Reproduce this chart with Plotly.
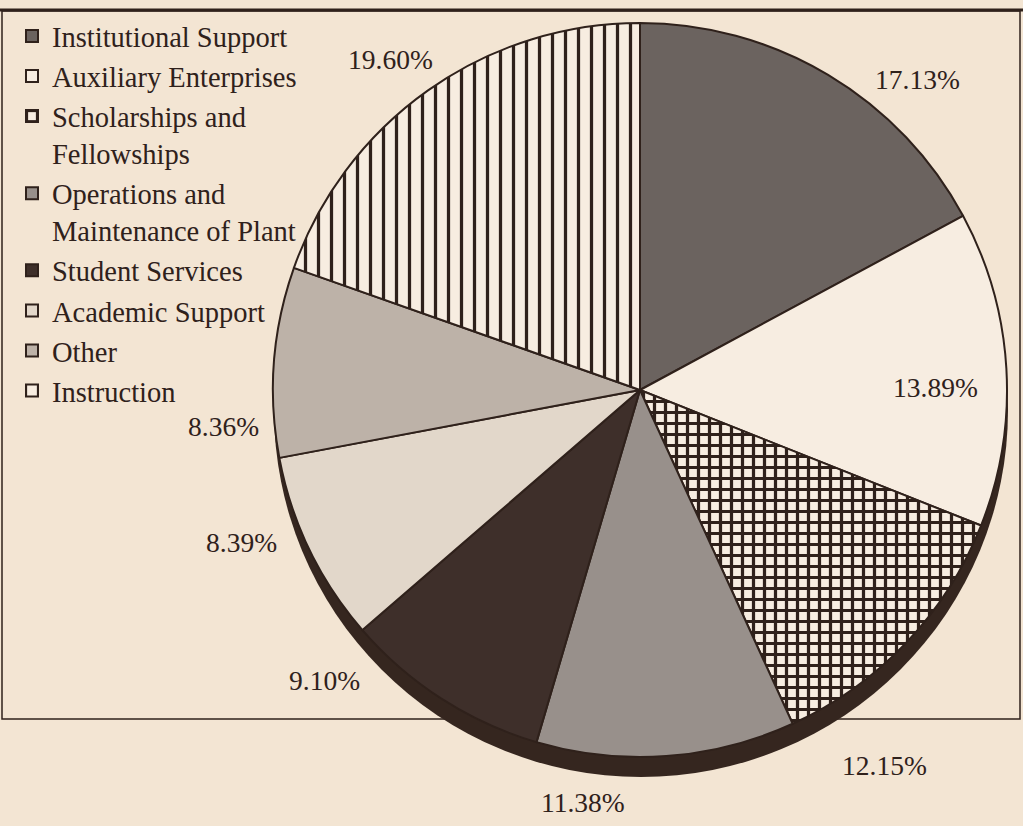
import plotly.graph_objects as go

categories = ["Institutional Support", "Auxiliary Enterprises", "Scholarships and<br>Fellowships",
              "Operations and<br>Maintenance of Plant", "Student Services", "Academic Support",
              "Other", "Instruction"]
shares = [17.13, 13.89, 12.15, 11.38, 9.10, 8.39, 8.36, 19.60]

slice_colors = ["#6b635f", "#f7ede1", "#f7ede1", "#98908b", "#3e2f2a", "#e2d7ca", "#bdb2a8", "#f7ede1"]
slice_shapes = ["", "", "+", "", "", "", "", "|"]

# where each percentage label sits, in pixels of the 1023x826 page
label_px = [(917, 79), (935, 387), (884, 765), (583, 802), (324, 680), (241, 542), (223, 426), (390, 60)]

W, H = 1023, 826
BG = "#f3e5d3"
INK = "#2f211b"
FONT = "Liberation Serif"

cx, cy, r = 640, 390, 367
drop = 20


def dom(x0, x1, y0, y1):
    return dict(x=[x0 / W, x1 / W], y=[1 - y1 / H, 1 - y0 / H])


fig = go.Figure()

# shadow under the pie
fig.add_trace(go.Pie(
    values=[1], labels=["shadow"], sort=False, showlegend=False, textinfo="none",
    hoverinfo="skip", marker=dict(colors=["#35261f"], line=dict(width=0)),
    domain=dom(cx - r + 1, cx + r + 1, cy - r + drop, cy + r + drop),
))

fig.add_trace(go.Pie(
    labels=categories, values=shares, sort=False, direction="clockwise", rotation=0,
    textinfo="none", hoverinfo="label+percent",
    marker=dict(
        colors=slice_colors,
        line=dict(color=INK, width=2),
        pattern=dict(shape=slice_shapes, fgcolor=INK, bgcolor=slice_colors,
                     fillmode="overlay", fgopacity=1,
                     size=[10, 10, 11, 10, 10, 10, 10, 13],
                     solidity=[0.3, 0.3, 0.5, 0.3, 0.3, 0.3, 0.3, 0.25]),
    ),
    domain=dom(cx - r, cx + r, cy - r, cy + r),
))

for (x, y), v in zip(label_px, shares):
    fig.add_annotation(x=x / W, y=1 - y / H, xref="paper", yref="paper",
                       xanchor="center", yanchor="middle",
                       text=f"{v:.2f}%", showarrow=False,
                       font=dict(family=FONT, size=27.5, color=INK))

# frame
fig.add_shape(type="rect", xref="paper", yref="paper", x0=2 / W, x1=1020 / W,
              y0=1 - 719 / H, y1=1 - 11 / H, line=dict(color=INK, width=1.5), layer="below")
fig.add_shape(type="line", xref="paper", yref="paper", x0=0, x1=1, y0=1 - 10 / H, y1=1 - 10 / H,
              line=dict(color=INK, width=3), layer="below")

fig.update_layout(
    width=W, height=H,
    margin=dict(l=0, r=0, t=0, b=0),
    paper_bgcolor=BG, plot_bgcolor=BG,
    font=dict(family=FONT, color=INK),
    showlegend=True,
    legend=dict(x=12 / W, y=1 - 11 / H, xanchor="left", yanchor="top",
                font=dict(family=FONT, size=28.5, color=INK),
                bgcolor="rgba(0,0,0,0)", valign="top", tracegroupgap=0),
)

fig.write_html("out.html", config={"displayModeBar": False},
               post_script="document.body.style.margin='0';")
